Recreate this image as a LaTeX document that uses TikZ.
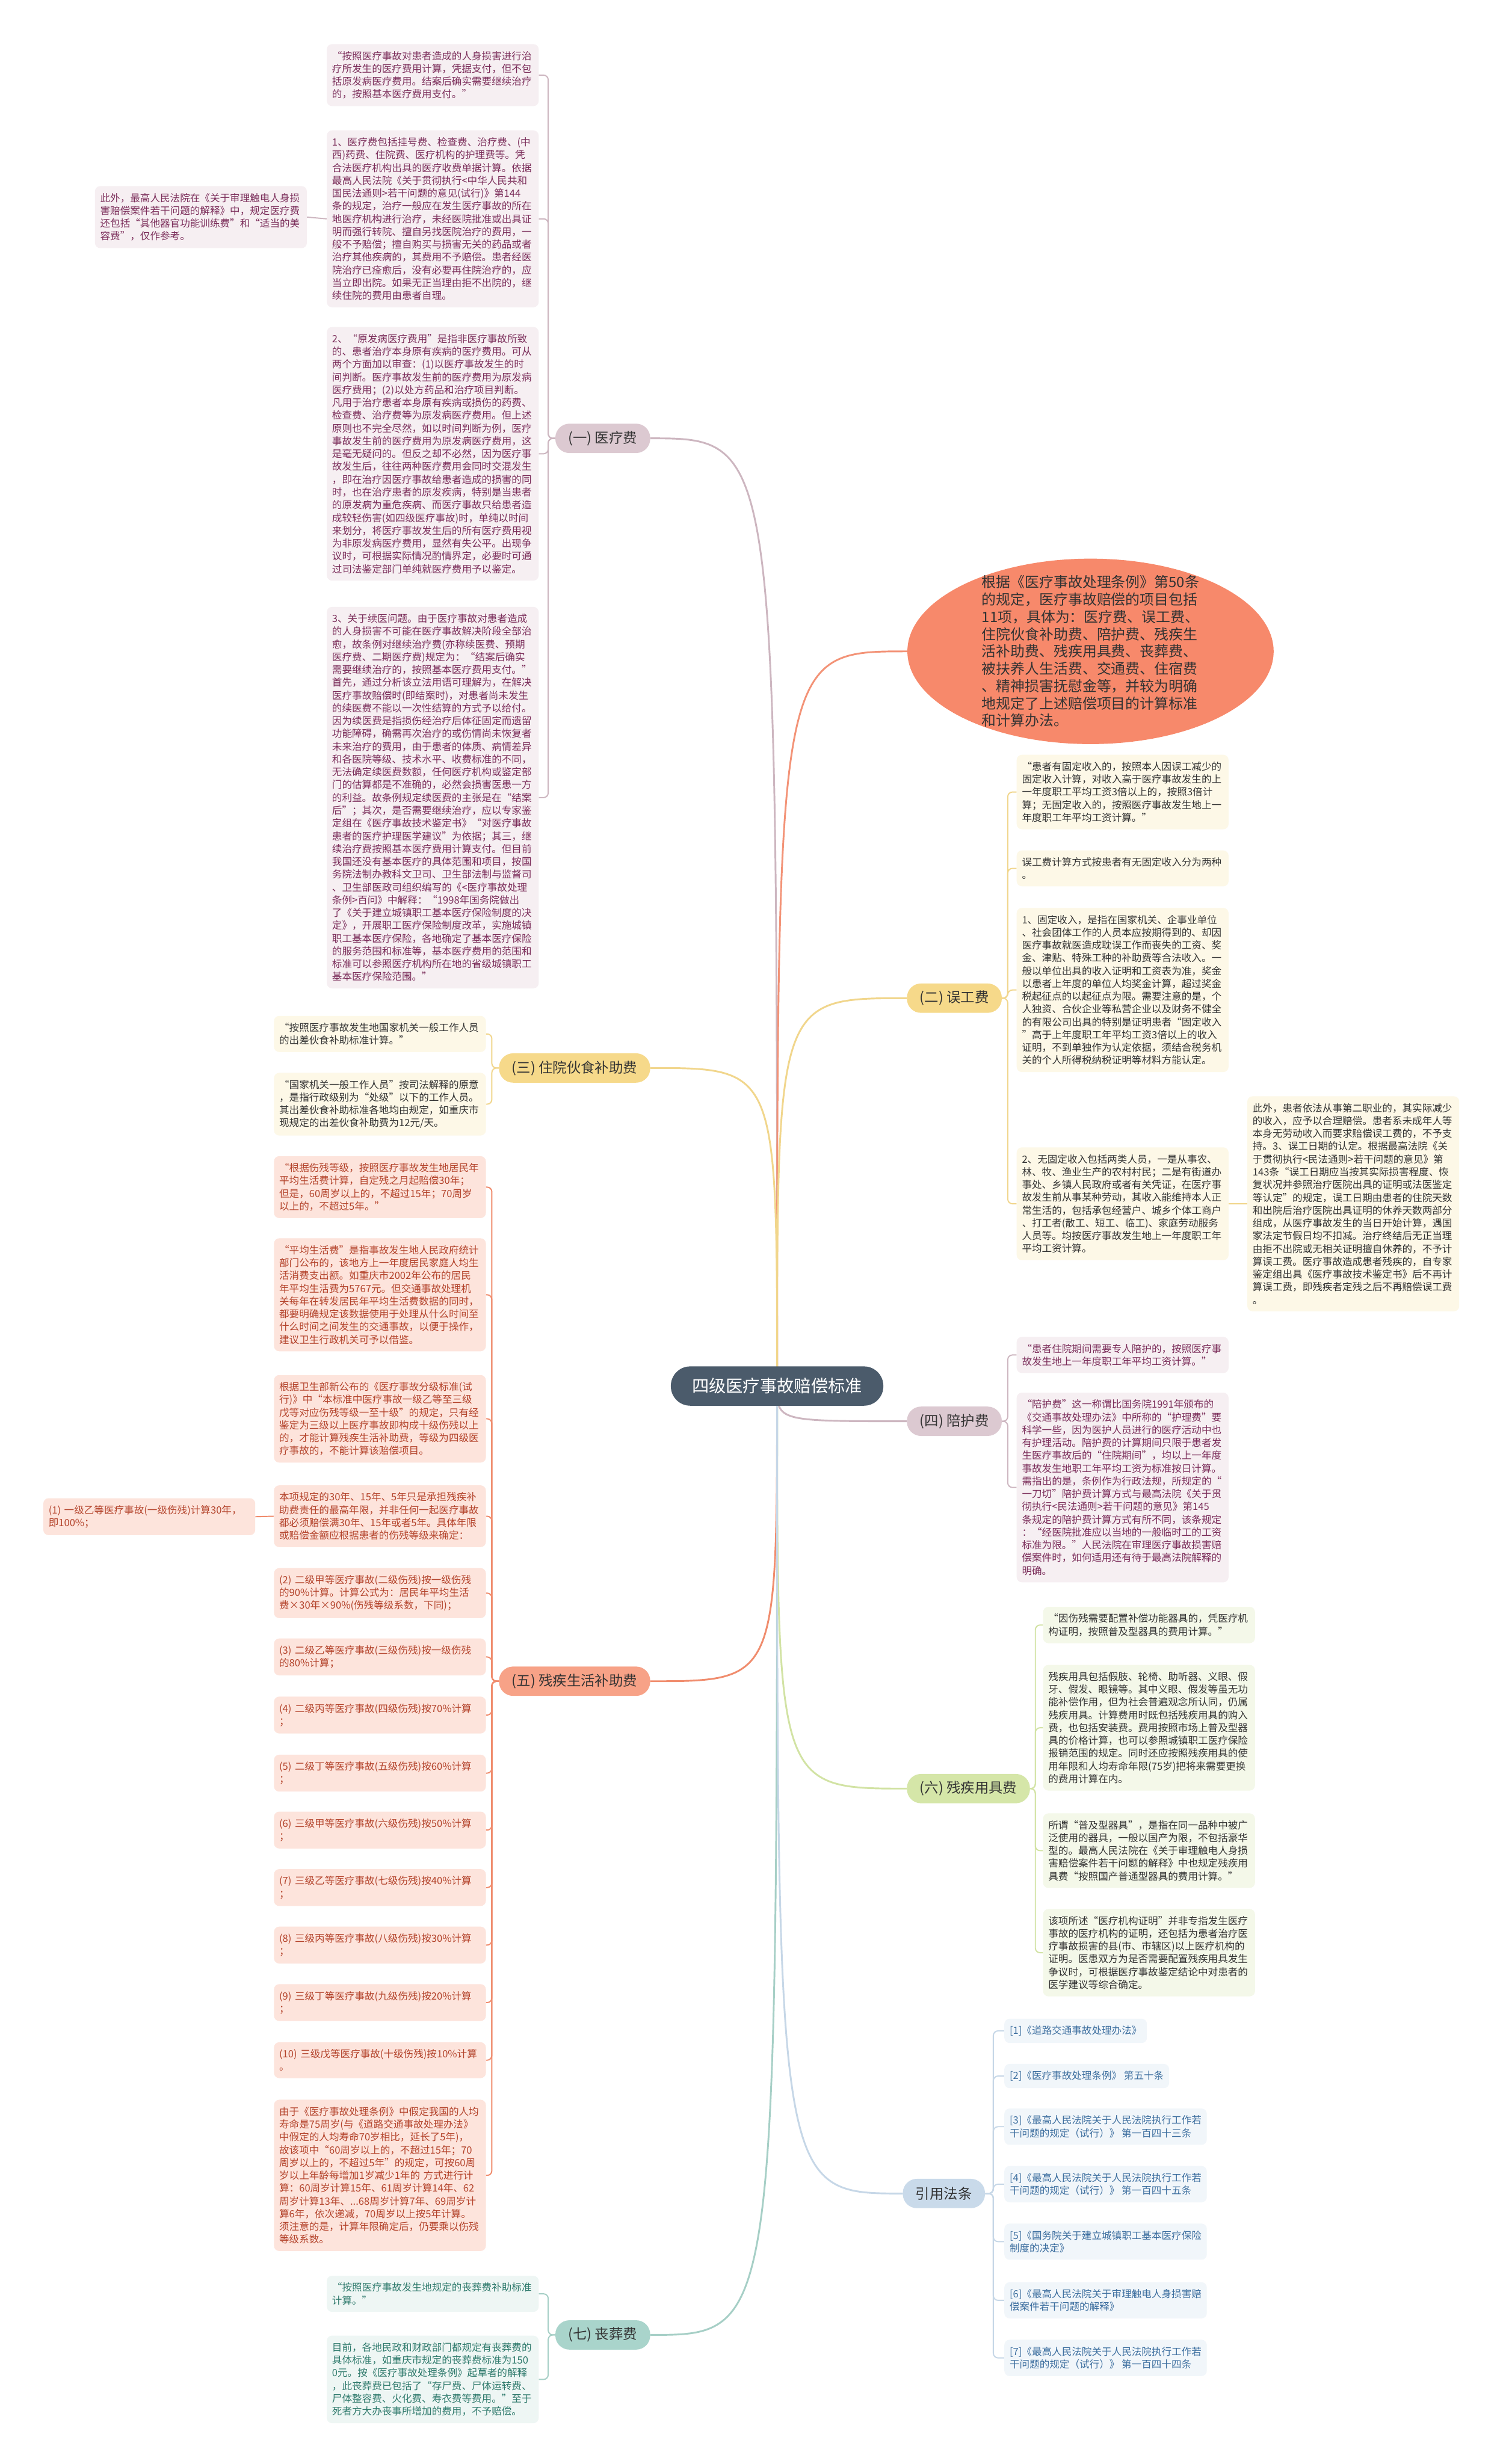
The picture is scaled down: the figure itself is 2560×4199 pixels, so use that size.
\documentclass[tikz,border=0pt]{standalone}
\usepackage{fontspec}
\setmainfont{Noto Sans CJK SC}
\usetikzlibrary{shapes.geometric,backgrounds}

\definecolor{rootbg}{HTML}{4B5B6B}
\definecolor{darktx}{HTML}{333333}
\definecolor{mauvebg}{HTML}{DCC9D1}
\definecolor{mauvelf}{HTML}{F6EFF2}
\definecolor{mauvetx}{HTML}{7B2D5A}
\definecolor{mauveln}{HTML}{CDB6C0}
\definecolor{goldbg}{HTML}{F6D98A}
\definecolor{goldlf}{HTML}{FDF8E7}
\definecolor{goldln}{HTML}{F1D68C}
\definecolor{coralbg}{HTML}{F7896B}
\definecolor{coralln}{HTML}{F39377}
\definecolor{salmbg}{HTML}{F7A287}
\definecolor{salmlf}{HTML}{FDE4DC}
\definecolor{salmtx}{HTML}{B4432B}
\definecolor{salmln}{HTML}{F08C6D}
\definecolor{greenbg}{HTML}{D5E6A8}
\definecolor{greenlf}{HTML}{F4F8E9}
\definecolor{greenln}{HTML}{D2E3A4}
\definecolor{tealbg}{HTML}{A9D4CB}
\definecolor{teallf}{HTML}{EEF6F4}
\definecolor{tealtx}{HTML}{2F7A6C}
\definecolor{tealln}{HTML}{A6CFC6}
\definecolor{bluebg}{HTML}{C9DAEA}
\definecolor{bluelf}{HTML}{F1F6FA}
\definecolor{bluetx}{HTML}{3C6E9F}
\definecolor{blueln}{HTML}{C6D7E7}

\begin{document}
\begin{tikzpicture}[
  x=1pt, y=-1pt,
  root/.style={fill=rootbg, text=white, rounded corners=33pt, minimum width=362pt, minimum height=67pt, font=\fontsize{29}{34}\selectfont},
  branch/.style={rounded corners=24pt, minimum height=50pt, inner xsep=22pt, text=darktx, font=\fontsize{24}{28}\selectfont},
  basis/.style={ellipse, fill=coralbg, minimum width=624pt, minimum height=316pt, inner sep=0pt},
  basistx/.style={align=left, text=darktx, font=\fontsize{24.5}{29.5}\selectfont},
  leaf/.style={rounded corners=9pt, align=left, text width=343pt, inner xsep=9pt, inner ysep=12pt, font=\fontsize{17}{21.8}\selectfont},
  mleaf/.style={leaf, fill=mauvelf, text=mauvetx},
  gleaf/.style={leaf, fill=goldlf, text=darktx},
  sleaf/.style={leaf, fill=salmlf, text=salmtx},
  vleaf/.style={leaf, fill=greenlf, text=darktx},
  tleaf/.style={leaf, fill=teallf, text=tealtx},
  bleaf/.style={rounded corners=9pt, align=left, inner xsep=9pt, inner ysep=12pt, font=\fontsize{17}{21.8}\selectfont, fill=bluelf, text=bluetx},
  trunk/.style={line width=3pt},
  twig/.style={line width=2pt, rounded corners=8pt}
]
\useasboundingbox (0,0) rectangle (2560,4199);

\node[root] (root) at (1324,2362) {四级医疗事故赔偿标准};

\node[basis] (basis) at (1858,1110) {};
\node[basistx] (basistx) at (basis.center) {根据《医疗事故处理条例》第50条\\的规定，医疗事故赔偿的项目包括\\11项，具体为：医疗费、误工费、\\住院伙食补助费、陪护费、残疾生\\活补助费、残疾用具费、丧葬费、\\被扶养人生活费、交通费、住宿费\\、精神损害抚慰金等，并较为明确\\地规定了上述赔偿项目的计算标准\\和计算办法。};

\node[branch, fill=mauvebg, anchor=east] (yl) at (1108,747) {(一) 医疗费};
\node[branch, fill=goldbg, anchor=west] (wg) at (1545,1701) {(二) 误工费};
\node[branch, fill=goldbg, anchor=east] (zy) at (1108,1820) {(三) 住院伙食补助费};
\node[branch, fill=mauvebg, anchor=west] (ph) at (1545,2422) {(四) 陪护费};
\node[branch, fill=salmbg, anchor=east] (cs) at (1108,2865) {(五) 残疾生活补助费};
\node[branch, fill=greenbg, anchor=west] (cy) at (1545,3048) {(六) 残疾用具费};
\node[branch, fill=tealbg, anchor=east] (sz) at (1108,3979) {(七) 丧葬费};
\node[branch, fill=bluebg, anchor=west] (fl) at (1538,3738) {引用法条};

\node[mleaf, anchor=north east] (yl1) at (918,75) {“按照医疗事故对患者造成的人身损害进行治\\疗所发生的医疗费用计算，凭据支付，但不包\\括原发病医疗费用。结案后确实需要继续治疗\\的，按照基本医疗费用支付。”};
\node[mleaf, anchor=north east] (yl2) at (918,222) {1、医疗费包括挂号费、检查费、治疗费、(中\\西)药费、住院费、医疗机构的护理费等。凭\\合法医疗机构出具的医疗收费单据计算。依据\\最高人民法院《关于贯彻执行<中华人民共和\\国民法通则>若干问题的意见(试行)》第144\\条的规定，治疗一般应在发生医疗事故的所在\\地医疗机构进行治疗，未经医院批准或出具证\\明而强行转院、擅自另找医院治疗的费用，一\\般不予赔偿；擅自购买与损害无关的药品或者\\治疗其他疾病的，其费用不予赔偿。患者经医\\院治疗已痊愈后，没有必要再住院治疗的，应\\当立即出院。如果无正当理由拒不出院的，继\\续住院的费用由患者自理。};
\node[mleaf, anchor=north east] (yl2a) at (523,317) {此外，最高人民法院在《关于审理触电人身损\\害赔偿案件若干问题的解释》中，规定医疗费\\还包括“其他器官功能训练费”和“适当的美\\容费”，仅作参考。};
\node[mleaf, anchor=north east] (yl3) at (918,557) {2、“原发病医疗费用”是指非医疗事故所致\\的、患者治疗本身原有疾病的医疗费用。可从\\两个方面加以审查：(1)以医疗事故发生的时\\间判断。医疗事故发生前的医疗费用为原发病\\医疗费用；(2)以处方药品和治疗项目判断。\\凡用于治疗患者本身原有疾病或损伤的药费、\\检查费、治疗费等为原发病医疗费用。但上述\\原则也不完全尽然，如以时间判断为例，医疗\\事故发生前的医疗费用为原发病医疗费用，这\\是毫无疑问的。但反之却不必然，因为医疗事\\故发生后，往往两种医疗费用会同时交混发生\\，即在治疗因医疗事故给患者造成的损害的同\\时，也在治疗患者的原发疾病，特别是当患者\\的原发病为重危疾病、而医疗事故只给患者造\\成较轻伤害(如四级医疗事故)时，单纯以时间\\来划分，将医疗事故发生后的所有医疗费用视\\为非原发病医疗费用，显然有失公平。出现争\\议时，可根据实际情况酌情界定，必要时可通\\过司法鉴定部门单纯就医疗费用予以鉴定。};
\node[mleaf, anchor=north east] (yl4) at (918,1034) {3、关于续医问题。由于医疗事故对患者造成\\的人身损害不可能在医疗事故解决阶段全部治\\愈，故条例对继续治疗费(亦称续医费、预期\\医疗费、二期医疗费)规定为：“结案后确实\\需要继续治疗的，按照基本医疗费用支付。”\\首先，通过分析该立法用语可理解为，在解决\\医疗事故赔偿时(即结案时)，对患者尚未发生\\的续医费不能以一次性结算的方式予以给付。\\因为续医费是指损伤经治疗后体征固定而遗留\\功能障碍，确需再次治疗的或伤情尚未恢复者\\未来治疗的费用，由于患者的体质、病情差异\\和各医院等级、技术水平、收费标准的不同，\\无法确定续医费数额，任何医疗机构或鉴定部\\门的估算都是不准确的，必然会损害医患一方\\的利益。故条例规定续医费的主张是在“结案\\后”；其次，是否需要继续治疗，应以专家鉴\\定组在《医疗事故技术鉴定书》“对医疗事故\\患者的医疗护理医学建议”为依据；其三，继\\续治疗费按照基本医疗费用计算支付。但目前\\我国还没有基本医疗的具体范围和项目，按国\\务院法制办教科文卫司、卫生部法制与监督司\\、卫生部医政司组织编写的《<医疗事故处理\\条例>百问》中解释：“1998年国务院做出\\了《关于建立城镇职工基本医疗保险制度的决\\定》，开展职工医疗保险制度改革，实施城镇\\职工基本医疗保险，各地确定了基本医疗保险\\的服务范围和标准等，基本医疗费用的范围和\\标准可以参照医疗机构所在地的省级城镇职工\\基本医疗保险范围。”};

\node[gleaf, anchor=north west] (wg1) at (1732,1286) {“患者有固定收入的，按照本人因误工减少的\\固定收入计算，对收入高于医疗事故发生的上\\一年度职工平均工资3倍以上的，按照3倍计\\算；无固定收入的，按照医疗事故发生地上一\\年度职工年平均工资计算。”};
\node[gleaf, anchor=north west] (wg2) at (1732,1449) {误工费计算方式按患者有无固定收入分为两种\\。};
\node[gleaf, anchor=north west] (wg3) at (1732,1547) {1、固定收入，是指在国家机关、企事业单位\\、社会团体工作的人员本应按期得到的、却因\\医疗事故就医造成耽误工作而丧失的工资、奖\\金、津贴、特殊工种的补助费等合法收入。一\\般以单位出具的收入证明和工资表为准，奖金\\以患者上年度的单位人均奖金计算，超过奖金\\税起征点的以起征点为限。需要注意的是，个\\人独资、合伙企业等私营企业以及财务不健全\\的有限公司出具的特别是证明患者“固定收入\\”高于上年度职工年平均工资3倍以上的收入\\证明，不到单独作为认定依据，须结合税务机\\关的个人所得税纳税证明等材料方能认定。};
\node[gleaf, anchor=north west] (wg4) at (1732,1955) {2、无固定收入包括两类人员，一是从事农、\\林、牧、渔业生产的农村村民；二是有街道办\\事处、乡镇人民政府或者有关凭证，在医疗事\\故发生前从事某种劳动，其收入能维持本人正\\常生活的，包括承包经营户、城乡个体工商户\\、打工者(散工、短工、临工)、家庭劳动服务\\人员等。均按医疗事故发生地上一年度职工年\\平均工资计算。};
\node[gleaf, anchor=north west] (wg4a) at (2125,1868) {此外，患者依法从事第二职业的，其实际减少\\的收入，应予以合理赔偿。患者系未成年人等\\本身无劳动收入而要求赔偿误工费的，不予支\\持。3、误工日期的认定。根据最高法院《关\\于贯彻执行<民法通则>若干问题的意见》第\\143条“误工日期应当按其实际损害程度、恢\\复状况并参照治疗医院出具的证明或法医鉴定\\等认定”的规定，误工日期由患者的住院天数\\和出院后治疗医院出具证明的休养天数两部分\\组成，从医疗事故发生的当日开始计算，遇国\\家法定节假日均不扣减。治疗终结后无正当理\\由拒不出院或无相关证明擅自休养的，不予计\\算误工费。医疗事故造成患者残疾的，自专家\\鉴定组出具《医疗事故技术鉴定书》后不再计\\算误工费，即残疾者定残之后不再赔偿误工费\\。};

\node[gleaf, anchor=north east] (zy1) at (828,1731) {“按照医疗事故发生地国家机关一般工作人员\\的出差伙食补助标准计算。”};
\node[gleaf, anchor=north east] (zy2) at (828,1828) {“国家机关一般工作人员”按司法解释的原意\\，是指行政级别为“处级”以下的工作人员。\\其出差伙食补助标准各地均由规定，如重庆市\\现规定的出差伙食补助费为12元/天。};

\node[mleaf, anchor=north west] (ph1) at (1732,2278) {“患者住院期间需要专人陪护的，按照医疗事\\故发生地上一年度职工年平均工资计算。”};
\node[mleaf, anchor=north west] (ph2) at (1732,2373) {“陪护费”这一称谓比国务院1991年颁布的\\《交通事故处理办法》中所称的“护理费”要\\科学一些，因为医护人员进行的医疗活动中也\\有护理活动。陪护费的计算期间只限于患者发\\生医疗事故后的“住院期间”，均以上一年度\\事故发生地职工年平均工资为标准按日计算。\\需指出的是，条例作为行政法规，所规定的“\\一刀切”陪护费计算方式与最高法院《关于贯\\彻执行<民法通则>若干问题的意见》第145\\条规定的陪护费计算方式有所不同，该条规定\\：“经医院批准应以当地的一般临时工的工资\\标准为限。”人民法院在审理医疗事故损害赔\\偿案件时，如何适用还有待于最高法院解释的\\明确。};

\node[sleaf, anchor=north east] (cs1) at (828,1970) {“根据伤残等级，按照医疗事故发生地居民年\\平均生活费计算，自定残之月起赔偿30年；\\但是，60周岁以上的，不超过15年；70周岁\\以上的，不超过5年。”};
\node[sleaf, anchor=north east] (cs2) at (828,2110) {“平均生活费”是指事故发生地人民政府统计\\部门公布的，该地方上一年度居民家庭人均生\\活消费支出额。如重庆市2002年公布的居民\\年平均生活费为5767元。但交通事故处理机\\关每年在转发居民年平均生活费数据的同时，\\都要明确规定该数据使用于处理从什么时间至\\什么时间之间发生的交通事故，以便于操作，\\建议卫生行政机关可予以借鉴。};
\node[sleaf, anchor=north east] (cs3) at (828,2343) {根据卫生部新公布的《医疗事故分级标准(试\\行)》中“本标准中医疗事故一级乙等至三级\\戊等对应伤残等级一至十级”的规定，只有经\\鉴定为三级以上医疗事故即构成十级伤残以上\\的，才能计算残疾生活补助费，等级为四级医\\疗事故的，不能计算该赔偿项目。};
\node[sleaf, anchor=north east] (cs4) at (828,2531) {本项规定的30年、15年、5年只是承担残疾补\\助费责任的最高年限，并非任何一起医疗事故\\都必须赔偿满30年、15年或者5年。具体年限\\或赔偿金额应根据患者的伤残等级来确定：};
\node[sleaf, anchor=north east] (cs4a) at (435,2553) {(1)~一级乙等医疗事故(一级伤残)计算30年，\\即100\%；};
\node[sleaf, anchor=north east] (cs5) at (828,2672) {(2)~二级甲等医疗事故(二级伤残)按一级伤残\\的90\%计算。计算公式为：居民年平均生活\\费×30年×90\%(伤残等级系数，下同)；};
\node[sleaf, anchor=north east] (cs6) at (828,2792) {(3)~二级乙等医疗事故(三级伤残)按一级伤残\\的80\%计算；};
\node[sleaf, anchor=north east] (cs7) at (828,2891) {(4)~二级丙等医疗事故(四级伤残)按70\%计算\\；};
\node[sleaf, anchor=north east] (cs8) at (828,2990) {(5)~二级丁等医疗事故(五级伤残)按60\%计算\\；};
\node[sleaf, anchor=north east] (cs9) at (828,3087) {(6)~三级甲等医疗事故(六级伤残)按50\%计算\\；};
\node[sleaf, anchor=north east] (cs10) at (828,3185) {(7)~三级乙等医疗事故(七级伤残)按40\%计算\\；};
\node[sleaf, anchor=north east] (cs11) at (828,3283) {(8)~三级丙等医疗事故(八级伤残)按30\%计算\\；};
\node[sleaf, anchor=north east] (cs12) at (828,3381) {(9)~三级丁等医疗事故(九级伤残)按20\%计算\\；};
\node[sleaf, anchor=north east] (cs13) at (828,3480) {(10)~三级戊等医疗事故(十级伤残)按10\%计算\\。};
\node[sleaf, anchor=north east] (cs14) at (828,3578) {由于《医疗事故处理条例》中假定我国的人均\\寿命是75周岁(与《道路交通事故处理办法》\\中假定的人均寿命70岁相比，延长了5年)，\\故该项中“60周岁以上的，不超过15年；70\\周岁以上的，不超过5年”的规定，可按60周\\岁以上年龄每增加1岁减少1年的~方式进行计\\算：60周岁计算15年、61周岁计算14年、62\\周岁计算13年、...68周岁计算7年、69周岁计\\算6年，依次递减，70周岁以上按5年计算。\\须注意的是，计算年限确定后，仍要乘以伤残\\等级系数。};

\node[vleaf, anchor=north west] (cy1) at (1777,2738) {“因伤残需要配置补偿功能器具的，凭医疗机\\构证明，按照普及型器具的费用计算。”};
\node[vleaf, anchor=north west] (cy2) at (1777,2837) {残疾用具包括假肢、轮椅、助听器、义眼、假\\牙、假发、眼镜等。其中义眼、假发等虽无功\\能补偿作用，但为社会普遍观念所认同，仍属\\残疾用具。计算费用时既包括残疾用具的购入\\费，也包括安装费。费用按照市场上普及型器\\具的价格计算，也可以参照城镇职工医疗保险\\报销范围的规定。同时还应按照残疾用具的使\\用年限和人均寿命年限(75岁)把将来需要更换\\的费用计算在内。};
\node[vleaf, anchor=north west] (cy3) at (1777,3090) {所谓“普及型器具”，是指在同一品种中被广\\泛使用的器具，一般以国产为限，不包括豪华\\型的。最高人民法院在《关于审理触电人身损\\害赔偿案件若干问题的解释》中也规定残疾用\\具费“按照国产普通型器具的费用计算。”};
\node[vleaf, anchor=north west] (cy4) at (1777,3253) {该项所述“医疗机构证明”并非专指发生医疗\\事故的医疗机构的证明，还包括为患者治疗医\\疗事故损害的县(市、市辖区)以上医疗机构的\\证明。医患双方为是否需要配置残疾用具发生\\争议时，可根据医疗事故鉴定结论中对患者的\\医学建议等综合确定。};

\node[tleaf, anchor=north east] (sz1) at (918,3878) {“按照医疗事故发生地规定的丧葬费补助标准\\计算。”};
\node[tleaf, anchor=north east] (sz2) at (918,3980) {目前，各地民政和财政部门都规定有丧葬费的\\具体标准，如重庆市规定的丧葬费标准为150\\0元。按《医疗事故处理条例》起草者的解释\\，此丧葬费已包括了“存尸费、尸体运转费、\\尸体整容费、火化费、寿衣费等费用。”至于\\死者方大办丧事所增加的费用，不予赔偿。};

\node[bleaf, anchor=north west] (fl1) at (1711,3440) {[1]《道路交通事故处理办法》};
\node[bleaf, anchor=north west] (fl2) at (1711,3517) {[2]《医疗事故处理条例》 第五十条};
\node[bleaf, anchor=north west] (fl3) at (1711,3593) {[3]《最高人民法院关于人民法院执行工作若\\干问题的规定（试行）》 第一百四十三条};
\node[bleaf, anchor=north west] (fl4) at (1711,3691) {[4]《最高人民法院关于人民法院执行工作若\\干问题的规定（试行）》 第一百四十五条};
\node[bleaf, anchor=north west] (fl5) at (1711,3789) {[5]《国务院关于建立城镇职工基本医疗保险\\制度的决定》};
\node[bleaf, anchor=north west] (fl6) at (1711,3889) {[6]《最高人民法院关于审理触电人身损害赔\\偿案件若干问题的解释》};
\node[bleaf, anchor=north west] (fl7) at (1711,3987) {[7]《最高人民法院关于人民法院执行工作若\\干问题的规定（试行）》 第一百四十四条};

\begin{scope}[on background layer]
\fill[white] (0,0) rectangle (2560,4199);
\draw[trunk, mauveln] (root.center) .. controls (root.center |- yl.east) .. (yl.east);
\draw[trunk, coralln] (root.center) .. controls (root.center |- basis.west) .. (basis.west);
\draw[trunk, goldln] (root.center) .. controls (root.center |- wg.west) .. (wg.west);
\draw[trunk, goldln] (root.center) .. controls (root.center |- zy.east) .. (zy.east);
\draw[trunk, mauveln] (root.center) .. controls (root.center |- ph.west) .. (ph.west);
\draw[trunk, salmln] (root.center) .. controls (root.center |- cs.east) .. (cs.east);
\draw[trunk, greenln] (root.center) .. controls (root.center |- cy.west) .. (cy.west);
\draw[trunk, tealln] (root.center) .. controls (root.center |- sz.east) .. (sz.east);
\draw[trunk, blueln] (root.center) .. controls (root.center |- fl.west) .. (fl.west);

\draw[twig, mauveln] (yl.west) -- ++(-12,0) |- (yl1.east);
\draw[twig, mauveln] (yl.west) -- ++(-12,0) |- (yl2.east);
\draw[twig, mauveln] (yl.west) -- ++(-12,0) |- (yl3.east);
\draw[twig, mauveln] (yl.west) -- ++(-12,0) |- (yl4.east);
\draw[twig, mauveln] (yl2.west) -- (yl2a.east);

\draw[twig, goldln] (wg.east) -- ++(10,0) |- (wg1.west);
\draw[twig, goldln] (wg.east) -- ++(10,0) |- (wg2.west);
\draw[twig, goldln] (wg.east) -- ++(10,0) |- (wg3.west);
\draw[twig, goldln] (wg.east) -- ++(10,0) |- (wg4.west);
\draw[twig, goldln] (wg4.east) -- (wg4a.west);

\draw[twig, goldln] (zy.west) -- ++(-12,0) |- (zy1.east);
\draw[twig, goldln] (zy.west) -- ++(-12,0) |- (zy2.east);

\draw[twig, mauveln] (ph.east) -- ++(10,0) |- (ph1.west);
\draw[twig, mauveln] (ph.east) -- ++(10,0) |- (ph2.west);

\draw[twig, salmln] (cs.west) -- ++(-12,0) |- (cs1.east);
\draw[twig, salmln] (cs.west) -- ++(-12,0) |- (cs2.east);
\draw[twig, salmln] (cs.west) -- ++(-12,0) |- (cs3.east);
\draw[twig, salmln] (cs.west) -- ++(-12,0) |- (cs4.east);
\draw[twig, salmln] (cs.west) -- ++(-12,0) |- (cs5.east);
\draw[twig, salmln] (cs.west) -- ++(-12,0) |- (cs6.east);
\draw[twig, salmln] (cs.west) -- ++(-12,0) |- (cs7.east);
\draw[twig, salmln] (cs.west) -- ++(-12,0) |- (cs8.east);
\draw[twig, salmln] (cs.west) -- ++(-12,0) |- (cs9.east);
\draw[twig, salmln] (cs.west) -- ++(-12,0) |- (cs10.east);
\draw[twig, salmln] (cs.west) -- ++(-12,0) |- (cs11.east);
\draw[twig, salmln] (cs.west) -- ++(-12,0) |- (cs12.east);
\draw[twig, salmln] (cs.west) -- ++(-12,0) |- (cs13.east);
\draw[twig, salmln] (cs.west) -- ++(-12,0) |- (cs14.east);
\draw[twig, salmln] (cs4.west) -- (cs4a.east);

\draw[twig, greenln] (cy.east) -- ++(9,0) |- (cy1.west);
\draw[twig, greenln] (cy.east) -- ++(9,0) |- (cy2.west);
\draw[twig, greenln] (cy.east) -- ++(9,0) |- (cy3.west);
\draw[twig, greenln] (cy.east) -- ++(9,0) |- (cy4.west);

\draw[twig, tealln] (sz.west) -- ++(-12,0) |- (sz1.east);
\draw[twig, tealln] (sz.west) -- ++(-12,0) |- (sz2.east);

\draw[twig, blueln] (fl.east) -- ++(14,0) |- (fl1.west);
\draw[twig, blueln] (fl.east) -- ++(14,0) |- (fl2.west);
\draw[twig, blueln] (fl.east) -- ++(14,0) |- (fl3.west);
\draw[twig, blueln] (fl.east) -- ++(14,0) |- (fl4.west);
\draw[twig, blueln] (fl.east) -- ++(14,0) |- (fl5.west);
\draw[twig, blueln] (fl.east) -- ++(14,0) |- (fl6.west);
\draw[twig, blueln] (fl.east) -- ++(14,0) |- (fl7.west);
\end{scope}
\end{tikzpicture}
\end{document}
